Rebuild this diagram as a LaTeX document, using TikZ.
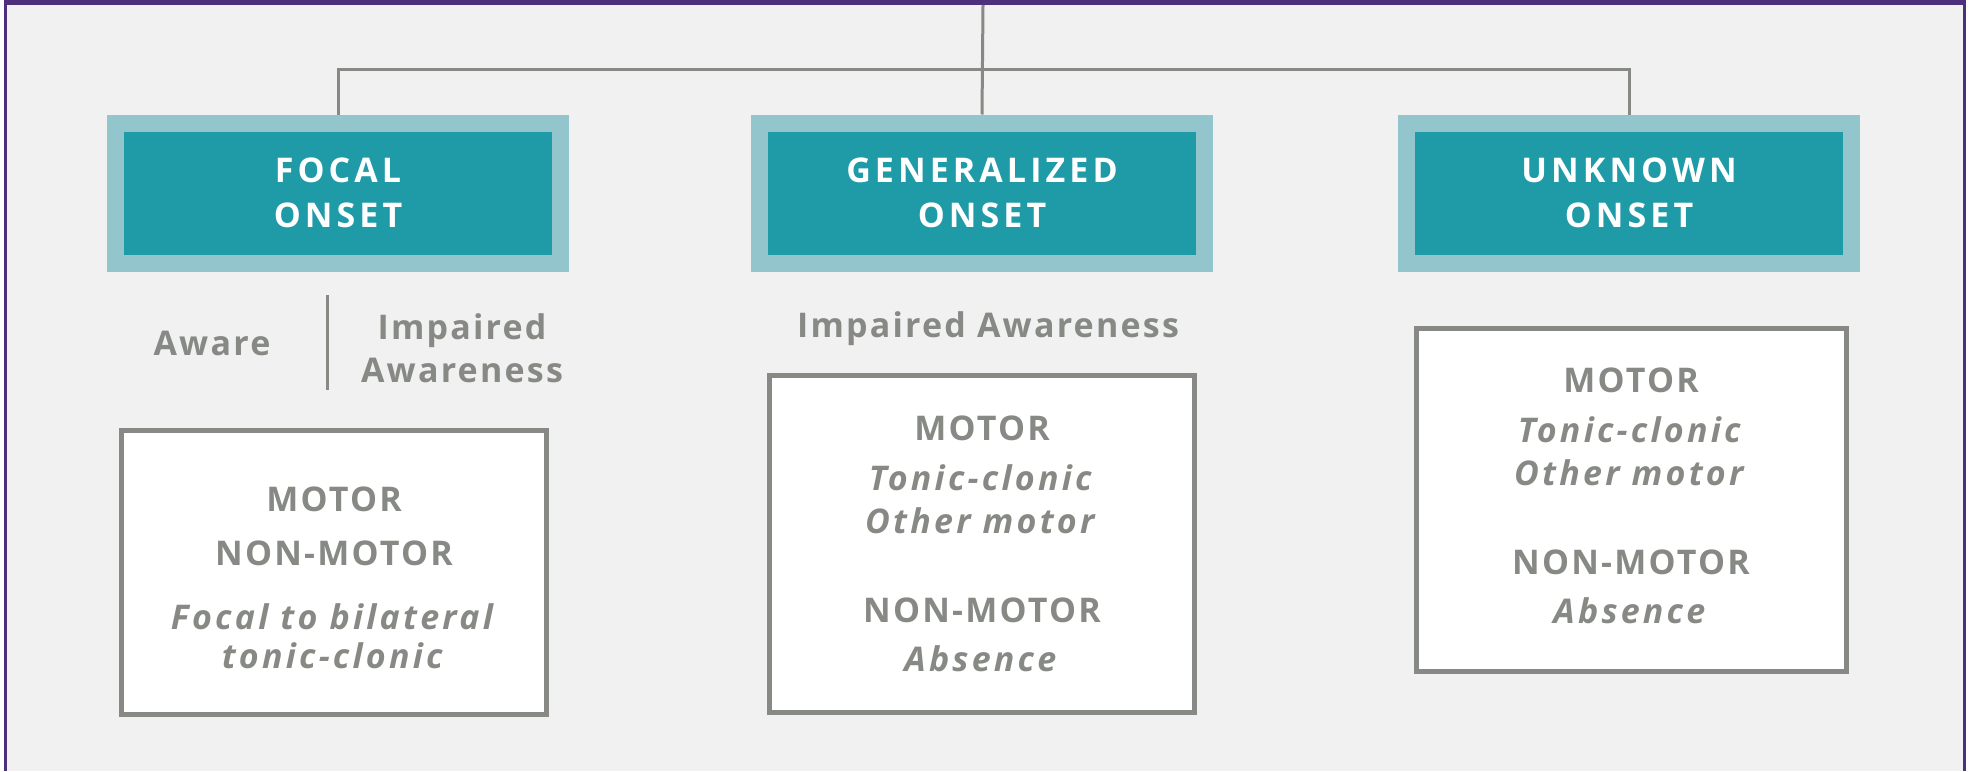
\documentclass[tikz,border=0pt]{standalone}
\usepackage{fontspec}
\setmainfont{Open Sans}
\newfontfamily\onsetfont[LetterSpace=12]{Open Sans}
\newfontfamily\greyfont[LetterSpace=6.5,BoldItalicFeatures={LetterSpace=9.5}]{Open Sans}

\definecolor{framepurple}{RGB}{76,48,125}
\definecolor{panelgrey}{RGB}{241,241,241}
\definecolor{tealdeep}{RGB}{31,155,168}
\definecolor{tealpale}{RGB}{146,197,204}
\definecolor{greyline}{RGB}{135,137,132}

\begin{document}
\begin{tikzpicture}
  [x=1pt,y=-1pt,
   onset/.style={draw=tealpale,fill=tealdeep,line width=17,minimum width=445,
     minimum height=140,text=white,align=center,
     font=\onsetfont\bfseries\fontsize{34}{45}\selectfont},
   typebox/.style={draw=greyline,fill=white,line width=5,align=center,
     text=greyline,font=\greyfont\bfseries\fontsize{34}{44}\selectfont},
   awaretext/.style={text=greyline,align=center,
     font=\greyfont\bfseries\fontsize{34}{43}\selectfont},
   wire/.style={greyline,line width=3}]
  \useasboundingbox (0,0) rectangle (1969,771);
  \fill[panelgrey] (5,0) rectangle (1965,771);
  \draw[framepurple,line width=3] (5.5,771) -- (5.5,2.5) -- (1964.5,2.5) -- (1964.5,771);
  \fill[framepurple] (4,0) rectangle (1966,5);

  \node[onset] (focal) at (338,193) {FOCAL\\ONSET};
  \node[onset] (general) at (982,193) {GENERALIZED\\ONSET};
  \node[onset] (unknown) at (1629,193) {UNKNOWN\\ONSET};

  \coordinate (top) at (983,5);
  \coordinate (bus) at (983,69);
  \draw[wire] (top) -- (general.north);
  \draw[wire] (focal.north) |- (bus) -| (unknown.north);

  \node[awaretext,anchor=base] (aware) at (212,355) {Aware};
  \node[awaretext] (impaired) at (462,348) {Impaired\\Awareness};
  \draw[wire] (327,295) -- (327,390);
  \node[awaretext,anchor=base] (genaware) at (988,337) {Impaired Awareness};

  \node[typebox,minimum width=425,minimum height=284] (focaltypes) at (334,572)
    {\rule{0pt}{36pt}MOTOR\\[10pt]NON-MOTOR\\[20pt]\textit{Focal to bilateral}\\[-5pt]\textit{tonic-clonic}};
  \node[typebox,minimum width=425,minimum height=337] (generaltypes) at (982,544)
    {MOTOR\\[6pt]\textit{Tonic-clonic}\\[-1pt]\textit{Other motor}\\[45pt]NON-MOTOR\\[5pt]\textit{Absence}};
  \node[typebox,minimum width=430,minimum height=343] (unknowntypes) at (1631,500)
    {MOTOR\\[6pt]\textit{Tonic-clonic}\\[-1pt]\textit{Other motor}\\[45pt]NON-MOTOR\\[5pt]\textit{Absence}\rule[-8pt]{0pt}{8pt}};
\end{tikzpicture}
\end{document}
